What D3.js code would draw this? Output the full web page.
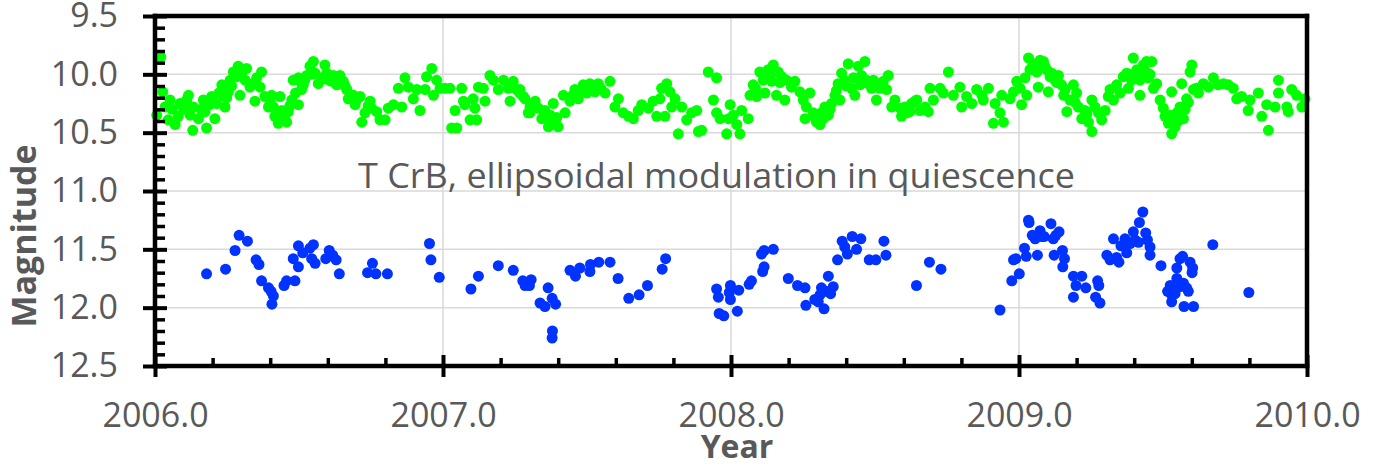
<!DOCTYPE html>
<html>
<head>
<meta charset="utf-8">
<script src="https://cdn.jsdelivr.net/npm/d3@7"></script>
<style>
  body { margin: 0; background: #fff; }
  text { font-family: "Open Sans", "Noto Sans", sans-serif; fill: #595959; }
</style>
</head>
<body>
<div id="chart"></div>
<script>
const width = 1387;
const height = 466;

// [year, magnitude]
const greenObs = [
  [2006.020,9.85],[2006.027,10.15],[2006.006,10.35],[2006.035,10.28],[2006.052,10.22],[2006.046,10.39],[2006.070,10.43],[2006.081,10.36],[2006.087,10.25],[2006.116,10.18],[2006.110,10.22],[2006.133,10.28],[2006.122,10.35],[2006.131,10.48],[2006.151,10.38],[2006.168,10.22],[2006.179,10.46],[2006.174,10.32],[2006.197,10.19],[2006.208,10.38],[2006.214,10.25],[2006.232,10.09],[2006.237,10.18],[2006.243,10.28],[2006.255,10.15],[2006.261,10.05],[2006.272,9.98],[2006.284,10.02],[2006.289,9.93],[2006.295,10.18],[2006.313,10.05],[2006.318,9.95],[2006.330,10.11],[2006.347,10.23],[2006.353,10.03],[2006.370,9.98],[2006.365,10.11],[2006.382,10.19],[2006.394,10.28],[2006.405,10.18],[2006.411,10.28],[2006.423,10.35],[2006.428,10.42],[2006.434,10.19],[2006.440,10.31],[2006.451,10.39],[2006.457,10.41],[2006.463,10.32],[2006.475,10.22],[2006.480,10.05],[2006.498,10.26],[2006.498,10.03],[2006.509,10.13],[2006.515,10.09],[2006.527,10.01],[2006.538,9.93],[2006.550,9.89],[2006.556,9.99],[2006.567,10.08],[2006.579,10.03],[2006.590,9.92],[2006.596,9.99],[2006.614,10.06],[2006.619,10.01],[2006.631,10.09],[2006.642,10.01],[2006.654,10.06],[2006.666,10.13],[2006.671,10.21],[2006.689,10.18],[2006.695,10.26],[2006.712,10.19],[2006.718,10.41],[2006.729,10.33],[2006.747,10.23],[2006.752,10.29],[2006.770,10.32],[2006.781,10.39],[2006.799,10.39],[2006.810,10.29],[2006.828,10.26],[2006.845,10.12],[2006.857,10.28],[2006.868,10.03],[2006.880,10.11],[2006.897,10.21],[2006.909,10.13],[2006.920,10.31],[2006.938,10.13],[2006.943,10.02],[2006.961,9.95],[2006.967,10.18],[2006.978,10.05],[2006.990,10.12],
  [2006.060,10.30],[2006.100,10.30],[2006.160,10.30],[2006.190,10.26],[2006.222,10.16],[2006.249,10.20],[2006.266,10.10],[2006.300,10.00],[2006.340,10.08],[2006.400,10.24],[2006.416,10.36],[2006.445,10.36],[2006.468,10.27],[2006.488,10.16],[2006.505,10.06],[2006.520,10.05],[2006.545,10.00],[2006.585,10.04],[2006.605,10.05],[2006.625,10.04],[2006.660,10.10],[2006.700,10.22],[2006.740,10.27],
  [2007.007,10.12],[2007.024,10.12],[2007.030,10.46],[2007.048,10.46],[2007.042,10.31],[2007.065,10.12],[2007.071,10.23],[2007.076,10.26],[2007.094,10.39],[2007.105,10.21],[2007.111,10.29],[2007.117,10.39],[2007.123,10.11],[2007.140,10.12],[2007.146,10.23],[2007.163,10.01],[2007.175,10.05],[2007.192,10.13],[2007.210,10.05],[2007.227,10.12],[2007.233,10.23],[2007.244,10.06],[2007.256,10.13],[2007.267,10.16],[2007.279,10.19],[2007.296,10.33],[2007.302,10.28],[2007.320,10.23],
  [2007.267,10.13],[2007.285,10.21],[2007.302,10.33],[2007.319,10.25],[2007.331,10.29],[2007.343,10.38],[2007.354,10.31],[2007.366,10.45],[2007.372,10.35],[2007.383,10.25],[2007.389,10.41],[2007.400,10.45],[2007.418,10.18],[2007.424,10.33],[2007.441,10.23],[2007.458,10.13],[2007.470,10.21],[2007.487,10.09],[2007.499,10.16],[2007.510,10.08],[2007.528,10.15],[2007.539,10.08],[2007.563,10.16],[2007.580,10.06],[2007.597,10.28],[2007.609,10.21],[2007.626,10.33],[2007.644,10.36],[2007.661,10.38],[2007.678,10.31],[2007.690,10.26],[2007.713,10.29],[2007.730,10.23],[2007.742,10.36],[2007.753,10.21],[2007.759,10.12],[2007.771,10.36],[2007.777,10.08],[2007.788,10.15],[2007.794,10.28],[2007.806,10.21],[2007.817,10.51],[2007.829,10.28],[2007.846,10.39],[2007.863,10.33],[2007.881,10.31],[2007.887,10.49],[2007.898,10.48],[2007.921,9.98],[2007.939,10.22],[2007.950,10.03],[2007.950,10.33],[2007.962,10.38],[2007.985,10.51],[2007.991,10.38],[2007.997,10.26],
  [2007.350,10.36],[2007.378,10.40],[2007.395,10.37],[2007.450,10.18],[2007.478,10.14],[2007.518,10.11],[2007.548,10.12],
  [2008.008,10.35],[2008.020,10.43],[2008.031,10.51],[2008.037,10.31],[2008.060,10.38],[2008.066,10.18],[2008.077,10.09],[2008.089,10.19],[2008.100,9.98],[2008.112,10.05],[2008.118,10.16],[2008.129,9.96],[2008.141,10.06],[2008.147,9.92],[2008.158,10.18],[2008.164,9.98],[2008.176,10.02],[2008.187,10.22],[2008.193,10.05],[2008.210,10.11],[2008.222,10.06],[2008.239,10.15],[2008.251,10.22],[2008.257,10.38],[2008.262,10.28],[2008.274,10.16],[2008.286,10.33],[2008.297,10.41],[2008.309,10.43],[2008.314,10.33],[2008.326,10.28],[2008.338,10.35],[2008.349,10.25],[2008.361,10.18],[2008.372,10.08],[2008.378,10.22],[2008.384,9.99],[2008.395,10.05],[2008.407,9.91],[2008.419,10.12],[2008.430,10.18],[2008.442,9.93],[2008.448,10.09],[2008.453,10.01],[2008.465,9.89],[2008.471,10.05],[2008.482,10.09],[2008.494,10.05],[2008.505,10.22],[2008.517,10.12],[2008.529,10.06],[2008.540,10.13],[2008.546,10.01],[2008.558,10.28],[2008.569,10.22],[2008.592,10.36],[2008.604,10.28],[2008.621,10.32],[2008.639,10.23],
  [2008.085,10.12],[2008.135,10.02],[2008.170,10.07],[2008.292,10.37],[2008.320,10.38],[2008.344,10.30],[2008.366,10.14],[2008.400,10.10],[2008.425,10.03],[2008.458,10.07],[2008.488,10.12],[2008.510,10.08],
  [2008.587,10.29],[2008.610,10.33],[2008.627,10.25],[2008.645,10.22],[2008.656,10.31],[2008.674,10.28],[2008.685,10.32],[2008.691,10.12],[2008.703,10.22],[2008.726,10.12],[2008.737,10.16],[2008.755,9.98],[2008.772,10.18],[2008.795,10.11],[2008.801,10.28],[2008.818,10.19],[2008.836,10.25],[2008.853,10.13],[2008.871,10.18],[2008.876,10.22],[2008.894,10.12],[2008.911,10.42],[2008.917,10.25],[2008.934,10.33],[2008.946,10.41],[2008.940,10.18],[2008.969,10.21],[2008.981,10.15],[2008.992,10.06],
  [2009.009,10.26],[2009.004,10.12],[2009.021,10.03],[2009.027,10.18],[2009.033,9.86],[2009.038,9.96],[2009.050,9.91],[2009.062,9.98],[2009.067,10.11],[2009.073,9.88],[2009.085,9.89],[2009.096,9.96],[2009.102,10.15],[2009.114,9.99],[2009.125,10.05],[2009.137,10.01],[2009.148,10.09],[2009.160,10.13],[2009.166,10.32],[2009.177,10.22],[2009.189,10.09],[2009.200,10.16],[2009.206,10.28],[2009.218,10.38],[2009.229,10.31],[2009.241,10.41],[2009.253,10.49],[2009.253,10.22],[2009.264,10.28],[2009.276,10.33],[2009.287,10.39],[2009.299,10.31],[2009.310,10.19],[2009.316,10.13],[2009.328,10.22],[2009.339,10.09],[2009.351,10.16],[2009.362,10.02],[2009.374,9.99],[2009.380,10.12],[2009.391,10.05],[2009.397,9.86],[2009.409,9.96],[2009.420,10.05],[2009.420,10.18],[2009.432,9.92],[2009.443,9.89],[2009.449,10.03],[2009.461,9.89],[2009.467,10.12],[2009.478,10.08],[2009.490,10.22],[2009.501,10.29],[2009.507,10.36],[2009.519,10.42],[2009.530,10.51],[2009.530,10.15],[2009.542,10.45],[2009.548,10.33],[2009.559,10.28],[2009.565,10.08],[2009.571,10.38],[2009.582,10.21],[2009.594,9.98],[2009.600,9.92],[2009.606,10.13],[2009.623,10.16],[2009.640,10.08],[2009.658,10.11],[2009.675,10.03],[2009.692,10.09],[2009.710,10.08],[2009.727,10.09],[2009.744,10.12],[2009.756,10.21],[2009.773,10.19],[2009.796,10.31],[2009.802,10.22],[2009.831,10.16],[2009.843,10.36],[2009.866,10.48],[2009.860,10.26],[2009.889,10.28],[2009.901,10.05],[2009.901,10.16],[2009.930,10.28],[2009.935,10.32],[2009.947,10.13],[2009.964,10.18],[2009.982,10.28],[2009.993,10.21],
  [2009.045,9.94],[2009.056,9.93],[2009.090,9.93],[2009.108,10.02],[2009.131,10.07],[2009.155,10.18],[2009.195,10.24],[2009.236,10.34],[2009.386,10.00],[2009.414,10.01],[2009.438,9.97],[2009.455,10.00],[2009.525,10.35],[2009.537,10.38],[2009.553,10.40],[2009.577,10.30],[2009.588,10.24],[2009.615,10.12]
];

const blueObs = [
  [2006.179,11.71],[2006.245,11.67],[2006.278,11.51],[2006.292,11.38],[2006.321,11.43],[2006.351,11.59],[2006.361,11.63],[2006.370,11.77],[2006.394,11.83],[2006.403,11.86],[2006.411,11.90],[2006.406,11.97],[2006.448,11.81],[2006.457,11.77],[2006.486,11.77],[2006.480,11.58],[2006.498,11.47],[2006.498,11.65],[2006.513,11.53],[2006.538,11.49],[2006.550,11.46],[2006.544,11.58],[2006.556,11.62],[2006.593,11.58],[2006.605,11.51],[2006.617,11.55],[2006.629,11.59],[2006.640,11.71],[2006.738,11.70],[2006.755,11.62],[2006.767,11.71],[2006.807,11.71],[2006.953,11.45],[2006.958,11.59],[2006.987,11.74],
  [2007.097,11.84],[2007.123,11.73],[2007.192,11.64],[2007.244,11.68],[2007.277,11.77],[2007.285,11.81],[2007.306,11.76],[2007.300,11.81],[2007.337,11.96],[2007.354,11.99],[2007.365,11.83],[2007.379,11.92],[2007.391,11.97],[2007.380,12.20],[2007.379,12.26],[2007.441,11.68],[2007.460,11.73],[2007.475,11.66],[2007.510,11.69],[2007.512,11.63],[2007.541,11.61],[2007.580,11.61],[2007.608,11.75],[2007.645,11.92],[2007.681,11.89],[2007.710,11.81],[2007.761,11.67],[2007.773,11.58],[2007.950,11.84],[2007.956,11.91],[2007.959,12.05],[2007.975,12.07],[2007.994,11.87],[2007.998,11.81],[2007.998,11.93],
  [2008.022,12.03],[2008.027,11.85],[2008.063,11.80],[2008.071,11.77],[2008.110,11.69],[2008.115,11.65],[2008.106,11.54],[2008.115,11.51],[2008.147,11.50],[2008.199,11.75],[2008.231,11.81],[2008.257,11.83],[2008.260,11.98],[2008.291,11.93],[2008.303,11.95],[2008.309,11.89],[2008.314,11.83],[2008.323,12.01],[2008.330,11.86],[2008.338,11.73],[2008.346,11.88],[2008.355,11.82],[2008.370,11.59],[2008.386,11.43],[2008.395,11.48],[2008.404,11.54],[2008.421,11.39],[2008.436,11.50],[2008.451,11.41],[2008.480,11.59],[2008.503,11.59],[2008.531,11.43],[2008.538,11.55],[2008.644,11.81],[2008.689,11.61],[2008.729,11.67],[2008.934,12.02],[2008.975,11.77],[2008.981,11.59],[2008.989,11.58],
  [2009.001,11.71],[2009.019,11.49],[2009.025,11.56],[2009.033,11.25],[2009.035,11.27],[2009.046,11.38],[2009.056,11.41],[2009.073,11.34],[2009.079,11.39],[2009.064,11.55],[2009.087,11.39],[2009.111,11.28],[2009.119,11.41],[2009.128,11.38],[2009.139,11.35],[2009.122,11.55],[2009.151,11.51],[2009.158,11.58],[2009.152,11.65],[2009.189,11.73],[2009.218,11.73],[2009.198,11.81],[2009.232,11.83],[2009.189,11.91],[2009.273,11.77],[2009.277,11.81],[2009.266,11.91],[2009.281,11.96],[2009.305,11.55],[2009.316,11.59],[2009.328,11.41],[2009.339,11.57],[2009.347,11.61],[2009.354,11.47],[2009.368,11.41],[2009.374,11.53],[2009.386,11.45],[2009.397,11.35],[2009.403,11.42],[2009.415,11.44],[2009.418,11.27],[2009.430,11.18],[2009.440,11.36],[2009.446,11.42],[2009.455,11.48],[2009.455,11.55],[2009.493,11.64],[2009.548,11.66],[2009.559,11.58],[2009.568,11.56],[2009.594,11.61],[2009.603,11.66],[2009.601,11.70],[2009.548,11.75],[2009.571,11.79],[2009.559,11.82],[2009.525,11.81],[2009.582,11.83],[2009.516,11.86],[2009.530,11.89],[2009.588,11.86],[2009.542,11.88],[2009.530,11.95],[2009.573,11.99],[2009.606,11.99],[2009.673,11.46],[2009.798,11.87]
];

const xMajor = [2006, 2007, 2008, 2009, 2010];
const yMajor = [9.5, 10, 10.5, 11, 11.5, 12, 12.5];
const title = "T CrB, ellipsoidal modulation in quiescence";

const x = d3.scaleLinear().domain([2006, 2010]).range([155, 1307]);
const y = d3.scaleLinear().domain([9.5, 12.5]).range([16, 366]);

const svg = d3
  .select("#chart")
  .append("svg")
  .attr("width", width)
  .attr("height", height);

// gridlines
svg
  .append("g")
  .selectAll("line")
  .data(yMajor.slice(1, -1))
  .enter()
  .append("line")
  .attr("x1", x(2006))
  .attr("x2", x(2010))
  .attr("y1", (d) => y(d))
  .attr("y2", (d) => y(d))
  .attr("stroke", "#d9d9d9")
  .attr("stroke-width", 1.5);

svg
  .append("g")
  .selectAll("line")
  .data(xMajor.slice(1, -1))
  .enter()
  .append("line")
  .attr("x1", (d) => x(d))
  .attr("x2", (d) => x(d))
  .attr("y1", y(9.5))
  .attr("y2", y(12.5))
  .attr("stroke", "#d9d9d9")
  .attr("stroke-width", 1.5);

const drawDots = (data, color) =>
  svg
    .append("g")
    .selectAll("circle")
    .data(data)
    .enter()
    .append("circle")
    .attr("cx", (d) => x(d[0]))
    .attr("cy", (d) => y(d[1]))
    .attr("r", 5.5)
    .attr("fill", color);

drawDots(greenObs, "#00ff00");
drawDots(blueObs, "#0033ff");

// annotation
svg
  .append("text")
  .attr("x", 358)
  .attr("y", 188)
  .attr("font-size", 34)
  .attr("textLength", 717)
  .attr("lengthAdjust", "spacingAndGlyphs")
  .text(title);

// axes: major ticks cross the line, minor ticks only inside
const styleAxis = (g, w) => {
  g.select(".domain").remove();
  g.selectAll(".tick line").attr("stroke", "#000").attr("stroke-width", w);
};

const yMinor = d3.range(9.6, 12.45, 0.1).filter((v) => Math.abs(v * 2 - Math.round(v * 2)) > 0.01);
const xMinor = d3.range(2006.2, 2010, 0.2).filter((v) => Math.abs(v - Math.round(v)) > 0.01);

svg
  .append("g")
  .attr("transform", `translate(${x(2006)},0)`)
  .call(d3.axisLeft(y).tickValues(yMajor).tickSize(12).tickPadding(25).tickFormat(d3.format(".1f")))
  .call((g) => {
    styleAxis(g, 4);
    g.selectAll("text").attr("font-size", 34).attr("font-family", null).attr("fill", "#595959");
  });

svg
  .append("g")
  .attr("transform", `translate(${x(2006)},0)`)
  .call(d3.axisRight(y).tickValues(yMajor).tickSize(12).tickFormat(""))
  .call((g) => styleAxis(g, 4));

svg
  .append("g")
  .attr("transform", `translate(${x(2006)},0)`)
  .call(d3.axisRight(y).tickValues(yMinor).tickSize(10).tickFormat(""))
  .call((g) => styleAxis(g, 3.5));

svg
  .append("g")
  .attr("transform", `translate(0,${y(12.5)})`)
  .call(d3.axisBottom(x).tickValues(xMajor).tickSize(11).tickPadding(26).tickFormat(d3.format(".1f")))
  .call((g) => {
    styleAxis(g, 4);
    g.selectAll("text").attr("font-size", 34).attr("font-family", null).attr("fill", "#595959");
  });

svg
  .append("g")
  .attr("transform", `translate(0,${y(12.5)})`)
  .call(d3.axisTop(x).tickValues(xMajor).tickSize(11).tickFormat(""))
  .call((g) => styleAxis(g, 4));

svg
  .append("g")
  .attr("transform", `translate(0,${y(12.5)})`)
  .call(d3.axisTop(x).tickValues(xMinor).tickSize(8).tickFormat(""))
  .call((g) => styleAxis(g, 3.5));

// frame
const frame = [
  [x(2006), y(9.5), x(2006), y(12.5)],
  [x(2006), y(12.5), x(2010), y(12.5)],
  [x(2006), y(9.5), x(2010), y(9.5)],
  [x(2010), y(9.5), x(2010), y(12.5)],
];
svg
  .append("g")
  .selectAll("line")
  .data(frame)
  .enter()
  .append("line")
  .attr("x1", (d) => d[0])
  .attr("y1", (d) => d[1])
  .attr("x2", (d) => d[2])
  .attr("y2", (d) => d[3])
  .attr("stroke", "#000")
  .attr("stroke-width", 4.5)
  .attr("stroke-linecap", "square");

// axis titles
svg
  .append("text")
  .attr("x", 737)
  .attr("y", 458)
  .attr("text-anchor", "middle")
  .attr("font-size", 32)
  .attr("font-weight", "bold")
  .text("Year");

svg
  .append("text")
  .attr("transform", "translate(36,236) rotate(-90)")
  .attr("text-anchor", "middle")
  .attr("font-size", 34)
  .attr("font-weight", "bold")
  .text("Magnitude");
</script>
</body>
</html>
